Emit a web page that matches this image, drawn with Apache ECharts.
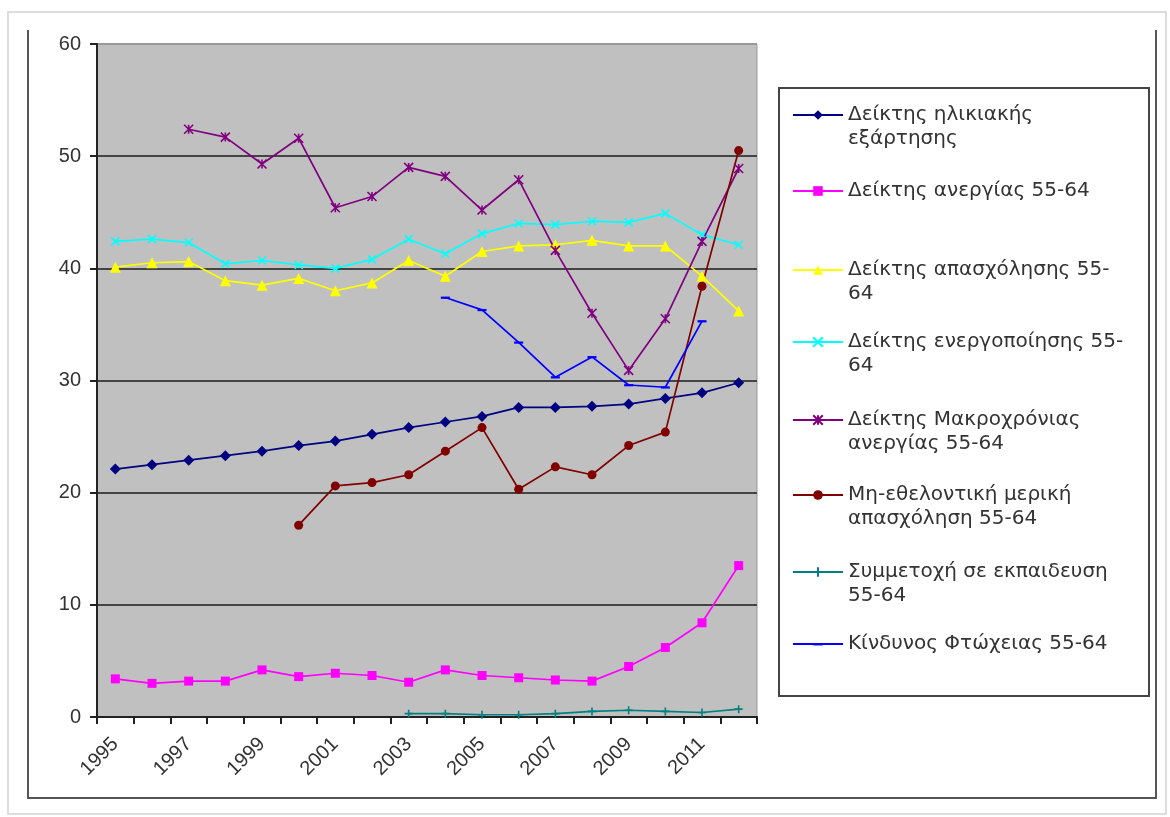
<!DOCTYPE html>
<html>
<head>
<meta charset="utf-8">
<script src="https://cdn.jsdelivr.net/npm/echarts@6/dist/echarts.min.js"></script>
<style>
  html, body { margin: 0; padding: 0; background: #fff; }
  #chart { width: 1170px; height: 817px; }
</style>
</head>
<body>
<div id="chart"></div>
<script>
var years = ['1995', '1996', '1997', '1998', '1999', '2000', '2001', '2002', '2003',
    '2004', '2005', '2006', '2007', '2008', '2009', '2010', '2011', '2012'];

var dependency = [22.1, 22.5, 22.9, 23.3, 23.7, 24.2, 24.6, 25.2, 25.8, 26.3, 26.8, 27.6, 27.6, 27.7, 27.9, 28.4, 28.9, 29.8];
var unemployment = [3.4, 3.0, 3.2, 3.2, 4.2, 3.6, 3.9, 3.7, 3.1, 4.2, 3.7, 3.5, 3.3, 3.2, 4.5, 6.2, 8.4, 13.5];
var employment = [40.1, 40.5, 40.6, 38.9, 38.5, 39.1, 38.0, 38.7, 40.7, 39.3, 41.5, 42.0, 42.1, 42.5, 42.0, 42.0, 39.3, 36.2];
var activity = [42.4, 42.6, 42.3, 40.4, 40.7, 40.3, 40.0, 40.8, 42.6, 41.3, 43.1, 44.0, 43.9, 44.2, 44.1, 44.9, 43.0, 42.1];
var longTerm = [null, null, 52.4, 51.7, 49.3, 51.6, 45.4, 46.4, 49.0, 48.2, 45.2, 47.9, 41.6, 36.0, 30.9, 35.5, 42.4, 48.9];
var partTime = [null, null, null, null, null, 17.1, 20.6, 20.9, 21.6, 23.7, 25.8, 20.3, 22.3, 21.6, 24.2, 25.4, 38.4, 50.5];
var training = [null, null, null, null, null, null, null, null, 0.3, 0.3, 0.2, 0.2, 0.3, 0.5, 0.6, 0.5, 0.4, 0.7];
var poverty = [null, null, null, null, null, null, null, null, null, 37.4, 36.3, 33.4, 30.3, 32.1, 29.6, 29.4, 35.3, null];

var names = [
    'Δείκτης ηλικιακής εξάρτησης',
    'Δείκτης ανεργίας 55-64',
    'Δείκτης απασχόλησης 55-64',
    'Δείκτης ενεργοποίησης 55-64',
    'Δείκτης Μακροχρόνιας ανεργίας 55-64',
    'Μη-εθελοντική μερική απασχόληση 55-64',
    'Συμμετοχή σε εκπαιδευση 55-64',
    'Κίνδυνος Φτώχειας 55-64'
];
// wrapped the way the legend box breaks them
var legendText = [
    'Δείκτης ηλικιακής\nεξάρτησης',
    'Δείκτης ανεργίας 55-64',
    'Δείκτης απασχόλησης 55-\n64',
    'Δείκτης ενεργοποίησης 55-\n64',
    'Δείκτης Μακροχρόνιας\nανεργίας 55-64',
    'Μη-εθελοντική μερική\nαπασχόληση 55-64',
    'Συμμετοχή σε εκπαιδευση\n55-64',
    'Κίνδυνος Φτώχειας 55-64'
];
var legendTop = [79, 179, 234, 306, 384, 459, 536, 632];

var crossPath = 'path://M0,0L10,10M10,0L0,10';
var starPath = 'path://M0,0L10,10M10,0L0,10M5,0L5,10';
var plusPath = 'path://M5,0L5,10M0,5L10,5';
var dashPath = 'path://M0,0L0,0M0,4L10,4L10,6.5L0,6.5ZM10,10L10,10';

var chartDom = document.getElementById('chart');
var myChart = echarts.init(chartDom);

function lineSeries(idx, data, color, symbol, size, stroke) {
    return {
        name: names[idx],
        type: 'line',
        data: data,
        symbol: symbol,
        symbolSize: size,
        showAllSymbol: true,
        connectNulls: false,
        lineStyle: { color: color, width: 1.7 },
        itemStyle: stroke ? { color: color, borderColor: color, borderWidth: 1.6 } : { color: color },
        emphasis: { disabled: true },
        animation: false
    };
}

var legends = names.map(function (n, i) {
    var twoLines = legendText[i].indexOf('\n') >= 0;
    return {
        data: [n],
        orient: 'vertical',
        left: 792,
        top: legendTop[i],
        padding: 0,
        itemWidth: 50,
        itemHeight: 12,
        // a blank first line keeps the marker level with the first text line
        formatter: function () { return twoLines ? ' \n' + legendText[i] : legendText[i]; },
        textStyle: {
            fontFamily: 'DejaVu Sans',
            fontSize: 20,
            color: '#333',
            lineHeight: 24
        },
        selectedMode: false
    };
});

var option = {
    backgroundColor: '#fff',
    textStyle: { fontFamily: 'Liberation Sans' },
    graphic: [
        { type: 'rect', shape: { x: 8, y: 12, width: 1158, height: 802 }, style: { fill: 'none', stroke: '#ddd', lineWidth: 2 }, silent: true },
        { type: 'polyline', shape: { points: [[28, 30], [28, 798], [1156, 798], [1156, 30]] }, style: { fill: 'none', stroke: '#555', lineWidth: 2 }, silent: true },
        { type: 'rect', shape: { x: 779, y: 88, width: 370, height: 608 }, style: { fill: 'none', stroke: '#444', lineWidth: 2 }, silent: true }
    ],
    legend: legends,
    grid: {
        left: 97,
        right: 413,
        top: 44,
        bottom: 100,
        show: true,
        backgroundColor: '#c0c0c0',
        borderColor: '#999',
        borderWidth: 1
    },
    xAxis: {
        type: 'category',
        data: years,
        boundaryGap: true,
        axisLine: { lineStyle: { color: '#222', width: 2 } },
        axisTick: { show: true, interval: 0, length: 7, lineStyle: { color: '#222', width: 2 } },
        axisLabel: {
            interval: 1,
            rotate: 45,
            margin: 24,
            fontSize: 20,
            color: '#333',
            fontFamily: 'Liberation Sans'
        }
    },
    yAxis: {
        type: 'value',
        min: 0,
        max: 60,
        interval: 10,
        axisLine: { show: true, lineStyle: { color: '#222', width: 2 } },
        axisTick: { show: true, length: 7, lineStyle: { color: '#222', width: 2 } },
        axisLabel: { fontSize: 20, color: '#333', margin: 16, fontFamily: 'Liberation Sans' },
        splitLine: {
            lineStyle: {
                color: ['#444', '#444', '#444', '#444', '#444', '#444', '#999'],
                width: 2
            }
        }
    },
    series: [
        lineSeries(0, dependency, '#000080', 'diamond', 11),
        lineSeries(1, unemployment, '#ff00ff', 'rect', 9),
        lineSeries(2, employment, '#ffff00', 'triangle', 11),
        lineSeries(3, activity, '#00ffff', crossPath, 8, true),
        lineSeries(4, longTerm, '#800080', starPath, 9, true),
        lineSeries(5, partTime, '#800000', 'circle', 9),
        lineSeries(6, training, '#008080', plusPath, 8, true),
        lineSeries(7, poverty, '#0000ff', dashPath, 9)
    ]
};

myChart.setOption(option);
window.addEventListener('resize', function () {
    myChart.resize();
});
</script>
</body>
</html>
